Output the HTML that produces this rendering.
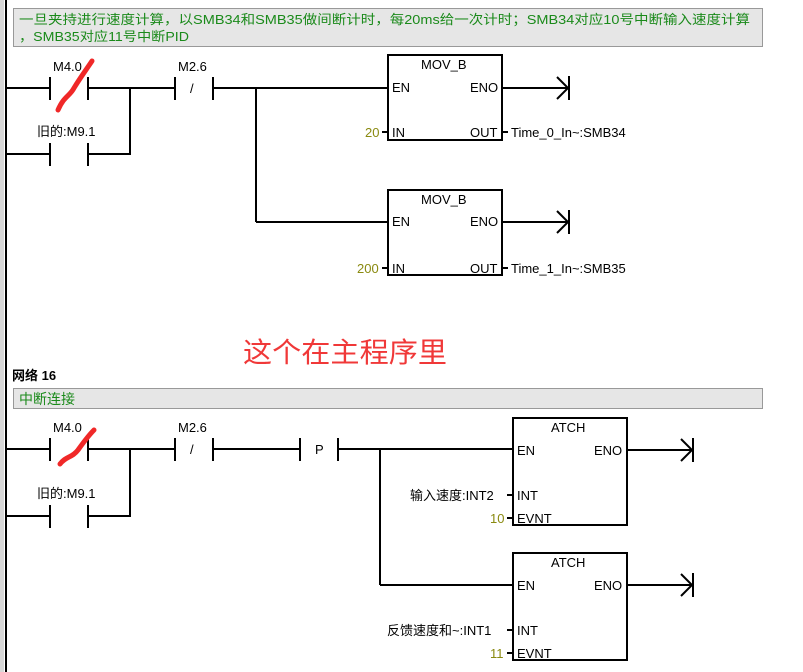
<!DOCTYPE html>
<html><head><meta charset="utf-8"><style>
html,body{margin:0;padding:0;background:#fff;width:803px;height:672px;overflow:hidden}
svg{display:block}
text{font-family:"Liberation Sans","Noto Sans CJK SC",sans-serif;font-size:13px;fill:#000}
.g{fill:#1a8a1a}
.y{fill:#8a8a10}
</style></head><body>
<svg width="803" height="672" viewBox="0 0 803 672" xmlns="http://www.w3.org/2000/svg">
<rect x="0" y="0" width="4" height="672" fill="#d8d8d8"/>
<line x1="6" y1="0" x2="6" y2="672" stroke="#000" stroke-width="2"/>
<rect x="13.5" y="8.5" width="749" height="38" fill="#e6e6e6" stroke="#999"/>
<text x="19" y="24" class="g" textLength="731" lengthAdjust="spacingAndGlyphs">一旦夹持进行速度计算，以SMB34和SMB35做间断计时，每20ms给一次计时；SMB34对应10号中断输入速度计算</text>
<text x="19" y="41" class="g" textLength="170" lengthAdjust="spacingAndGlyphs">，SMB35对应11号中断PID</text>
<g stroke="#000" stroke-width="2" fill="none">
<line x1="6" y1="88" x2="50" y2="88"/>
<line x1="50" y1="77" x2="50" y2="100"/><line x1="88" y1="77" x2="88" y2="100"/>
<line x1="88" y1="88" x2="175" y2="88"/>
<line x1="6" y1="154" x2="50" y2="154"/>
<line x1="50" y1="143" x2="50" y2="166"/><line x1="88" y1="143" x2="88" y2="166"/>
<line x1="88" y1="154" x2="130" y2="154"/><line x1="130" y1="88" x2="130" y2="155"/>
<line x1="175" y1="77" x2="175" y2="100"/><line x1="213" y1="77" x2="213" y2="100"/>
<line x1="213" y1="88" x2="388" y2="88"/>
<line x1="256" y1="88" x2="256" y2="222"/><line x1="256" y1="222" x2="388" y2="222"/>
<rect x="388" y="55" width="114" height="85"/>
<rect x="388" y="190" width="114" height="85"/>
<line x1="502" y1="88" x2="568" y2="88"/>
<line x1="502" y1="222" x2="568" y2="222"/>
<polyline points="557,77 568,88 557,99"/><line x1="569" y1="76" x2="569" y2="100"/>
<polyline points="557,211 568,222 557,233"/><line x1="569" y1="210" x2="569" y2="234"/>
<line x1="382" y1="132" x2="388" y2="132"/><line x1="502" y1="132" x2="508" y2="132"/>
<line x1="382" y1="268" x2="388" y2="268"/><line x1="502" y1="268" x2="508" y2="268"/>
<line x1="6" y1="449" x2="50" y2="449"/>
<line x1="50" y1="438" x2="50" y2="461"/><line x1="88" y1="438" x2="88" y2="461"/>
<line x1="88" y1="449" x2="175" y2="449"/>
<line x1="6" y1="516" x2="50" y2="516"/>
<line x1="50" y1="505" x2="50" y2="528"/><line x1="88" y1="505" x2="88" y2="528"/>
<line x1="88" y1="516" x2="130" y2="516"/><line x1="130" y1="449" x2="130" y2="517"/>
<line x1="175" y1="438" x2="175" y2="461"/><line x1="213" y1="438" x2="213" y2="461"/>
<line x1="213" y1="449" x2="300" y2="449"/>
<line x1="300" y1="438" x2="300" y2="461"/><line x1="338" y1="438" x2="338" y2="461"/>
<line x1="338" y1="449" x2="513" y2="449"/>
<line x1="380" y1="449" x2="380" y2="585"/><line x1="380" y1="585" x2="513" y2="585"/>
<rect x="513" y="418" width="114" height="107"/>
<rect x="513" y="553" width="114" height="107"/>
<line x1="627" y1="450" x2="692" y2="450"/>
<line x1="627" y1="585" x2="692" y2="585"/>
<polyline points="681,439 692,450 681,461"/><line x1="693" y1="438" x2="693" y2="462"/>
<polyline points="681,574 692,585 681,596"/><line x1="693" y1="573" x2="693" y2="597"/>
<line x1="507" y1="495" x2="513" y2="495"/><line x1="507" y1="518" x2="513" y2="518"/>
<line x1="507" y1="630" x2="513" y2="630"/><line x1="507" y1="653" x2="513" y2="653"/>
</g>
<text x="53" y="71">M4.0</text>
<text x="178" y="71">M2.6</text>
<text x="190" y="93">/</text>
<text x="37" y="136">旧的:M9.1</text>
<text x="421" y="69">MOV_B</text>
<text x="392" y="92">EN</text><text x="470" y="92">ENO</text>
<text x="392" y="137">IN</text><text x="470" y="137">OUT</text>
<text x="365" y="137" class="y">20</text>
<text x="511" y="137">Time_0_In~:SMB34</text>
<text x="421" y="204">MOV_B</text>
<text x="392" y="226">EN</text><text x="470" y="226">ENO</text>
<text x="392" y="273">IN</text><text x="470" y="273">OUT</text>
<text x="357" y="273" class="y">200</text>
<text x="511" y="273">Time_1_In~:SMB35</text>
<text x="243" y="362" style="font-size:28px;fill:#f03838" textLength="204" lengthAdjust="spacingAndGlyphs">这个在主程序里</text>
<text x="12" y="380" style="font-weight:bold">网络 16</text>
<rect x="13.5" y="388.5" width="749" height="20" fill="#e6e6e6" stroke="#999"/>
<text x="19" y="404" class="g" style="font-size:14px">中断连接</text>
<text x="53" y="432">M4.0</text>
<text x="178" y="432">M2.6</text>
<text x="190" y="454">/</text>
<text x="315" y="454">P</text>
<text x="37" y="498">旧的:M9.1</text>
<text x="551" y="432">ATCH</text>
<text x="517" y="455">EN</text><text x="594" y="455">ENO</text>
<text x="517" y="500">INT</text><text x="517" y="523">EVNT</text>
<text x="410" y="500">输入速度:INT2</text>
<text x="490" y="523" class="y">10</text>
<text x="551" y="567">ATCH</text>
<text x="517" y="590">EN</text><text x="594" y="590">ENO</text>
<text x="517" y="635">INT</text><text x="517" y="658">EVNT</text>
<text x="387" y="635">反馈速度和~:INT1</text>
<text x="490" y="658" class="y">11</text>
<g stroke="#f02828" stroke-width="5" stroke-linecap="round" fill="none">
<path d="M58,110 C64,96 70,96 74,88 C80,78 86,70 92,61"/>
<path d="M60,464 C66,456 72,458 78,450 C83,443 88,436 94,430"/>
</g>
</svg>
</body></html>
